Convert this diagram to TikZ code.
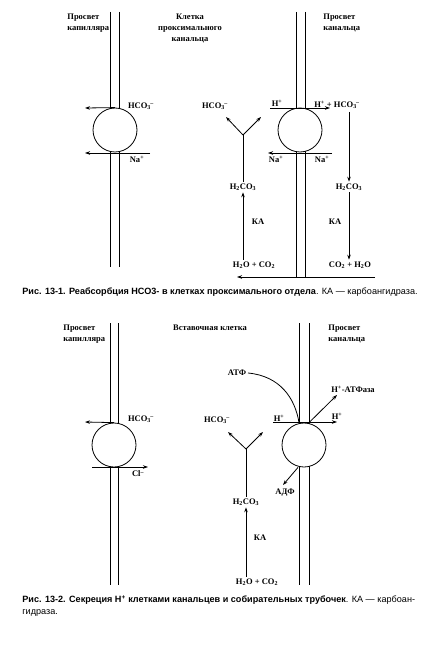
\documentclass[tikz,border=0pt]{standalone}
\usepackage{fontspec}
\setmainfont{Liberation Serif}
\newfontfamily\capfont{Liberation Sans}
\usetikzlibrary{arrows.meta}

\tikzset{
  lbl/.style={font=\fontsize{8.5}{11}\selectfont\bfseries, inner sep=0pt, align=left},
  chem/.style={font=\fontsize{8.5}{10}\selectfont\bfseries, inner sep=1.5pt},
  pump/.style={circle, draw, fill=white, minimum size=44pt, inner sep=0pt},
  flow/.style={-{Stealth[length=5pt,width=3.5pt]}},
  caption/.style={font=\capfont\fontsize{9.1}{12}\selectfont, inner sep=0pt, anchor=west, align=left},
}
\newcommand{\ionsub}[2]{\textsubscript{#1}\kern-0.5pt\textsuperscript{#2}}

\begin{document}
\begin{tikzpicture}[x=1pt, y=-1pt, line width=0.8pt]
  \useasboundingbox (0,0) rectangle (433,652);

  % --- Рис. 13-1 ---
  \foreach \mx/\ya/\yb in {110/12/267, 119/12/267, 296/12/277, 305/12/277}{
    \draw (\mx,\ya) -- (\mx,\yb);
  }
  \node[pump] (pA) at (115,130) {};
  \node[pump] (pB) at (300,130) {};

  \node[lbl, anchor=west] (capA) at (67,23) {Просвет\\капилляра};
  \node[lbl, align=center] (cellA) at (190,28) {Клетка\\проксимального\\канальца};
  \node[lbl, anchor=west] (lumA) at (323,23) {Просвет\\канальца};

  \node[chem] (hcoA) at (141,106) {HCO\ionsub{3}{--}};
  \node[chem] (naA) at (137,159) {Na\textsuperscript{+}};
  \coordinate (hcoEnd) at (85,108);
  \coordinate (naStart) at (150,153);
  \coordinate (naEnd) at (85,153);
  \draw[flow] (pA.north) -- (hcoEnd);
  \draw[flow] (naStart) -- (naEnd);

  \node[chem] (hB) at (277,103) {H\textsuperscript{+}};
  \node[chem] (mixB) at (337,105) {H\textsuperscript{+} + HCO\ionsub{3}{--}};
  \node[chem] (naB1) at (276,159) {Na\textsuperscript{+}};
  \node[chem] (naB2) at (322,159) {Na\textsuperscript{+}};
  \coordinate (hStart) at (270,108);
  \coordinate (hEnd) at (330,108);
  \coordinate (naBStart) at (332,153);
  \coordinate (naBEnd) at (268,153);
  \draw[flow] (hStart) -- (hEnd);
  \draw[flow] (naBStart) -- (naBEnd);

  \node[chem] (hcB) at (349,187) {H\textsubscript{2}CO\textsubscript{3}};
  \node[chem] (wB) at (350,265) {CO\textsubscript{2} + H\textsubscript{2}O};
  \node[chem] (kaB) at (335,222) {КА};
  \coordinate (mixDown) at (349,112);
  \draw[flow] (mixDown) -- (hcB.north);
  \draw[flow] (hcB.south) -- (hcB.south |- wB.north);
  \coordinate (backStart) at (375,277);
  \coordinate (backEnd) at (237,277);
  \draw[flow] (backStart) -- (backEnd);

  \node[chem] (hcoY) at (215,106) {HCO\ionsub{3}{--}};
  \node[chem] (hcA) at (243,187) {H\textsubscript{2}CO\textsubscript{3}};
  \node[chem] (wA) at (254,265) {H\textsubscript{2}O + CO\textsubscript{2}};
  \node[chem] (kaA) at (258,222) {КА};
  \coordinate (yA) at (243,135);
  \coordinate (yAl) at (226,117);
  \coordinate (yAr) at (261,117);
  \draw[flow] (yA) -- (yAl);
  \draw[flow] (yA) -- (yAr);
  \draw (yA) -- (hcA.north);
  \draw[flow] (hcA.south |- wA.north) -- (hcA.south);

  \node[caption] (capOne) at (22,292) {\textbf{Рис. 13-1. Реабсорбция НСО3- в клетках проксимального отдела}. КА — карбоангидраза.};

  % --- Рис. 13-2 ---
  \foreach \mx/\ya/\yb in {110/323/585, 118/323/585, 299/323/585, 309/323/585}{
    \draw (\mx,\ya) -- (\mx,\yb);
  }
  \node[pump] (pC) at (114,445) {};
  \node[pump] (pD) at (304,445) {};

  \node[lbl, anchor=west] (capC) at (63,334) {Просвет\\капилляра};
  \node[lbl] (cellC) at (210,328) {Вставочная клетка};
  \node[lbl, anchor=west] (lumC) at (328,334) {Просвет\\канальца};

  \node[chem] (hcoC) at (141,419) {HCO\ionsub{3}{--}};
  \node[chem] (clC) at (138,474) {Cl\textsuperscript{--}};
  \coordinate (hcoCEnd) at (85,422);
  \coordinate (clStart) at (92,467);
  \coordinate (clEnd) at (148,467);
  \draw[flow] (pC.north) -- (hcoCEnd);
  \draw[flow] (clStart) -- (clEnd);

  \node[chem] (atf) at (237,373) {АТФ};
  \node[chem] (atfase) at (353,389) {H\textsuperscript{+}-АТФаза};
  \node[chem] (hD1) at (279,418) {H\textsuperscript{+}};
  \node[chem] (hD2) at (337,416) {H\textsuperscript{+}};
  \node[chem] (adf) at (285,493) {АДФ};
  \coordinate (hDStart) at (273,422);
  \coordinate (hDEnd) at (337,422);
  \coordinate (atfaseEnd) at (337,395);
  \coordinate (adfEnd) at (283,485);
  \draw[flow] (hDStart) -- (hDEnd);
  \draw (atf.east) .. controls (280,376) and (295,398) .. ([xshift=-5pt]pD.north);
  \draw[flow] ([xshift=5pt]pD.north) -- (atfaseEnd);
  \draw[flow] ([xshift=-6pt]pD.south) -- (adfEnd);

  \node[chem] (hcoZ) at (217,420) {HCO\ionsub{3}{--}};
  \node[chem] (hcC) at (246,502) {H\textsubscript{2}CO\textsubscript{3}};
  \node[chem] (wC) at (257,582) {H\textsubscript{2}O + CO\textsubscript{2}};
  \node[chem] (kaC) at (260,538) {КА};
  \coordinate (yC) at (246,449);
  \coordinate (yCl) at (228,432);
  \coordinate (yCr) at (263,432);
  \draw[flow] (yC) -- (yCl);
  \draw[flow] (yC) -- (yCr);
  \draw (yC) -- (hcC.north);
  \draw[flow] (hcC.south |- wC.north) -- (hcC.south);

  \node[caption, anchor=north west] (capTwo) at (22,595) {\textbf{Рис. 13-2. Секреция Н\textsuperscript{+} клетками канальцев и собирательных трубочек}. КА — карбоан-\\гидраза.};
\end{tikzpicture}
\end{document}
